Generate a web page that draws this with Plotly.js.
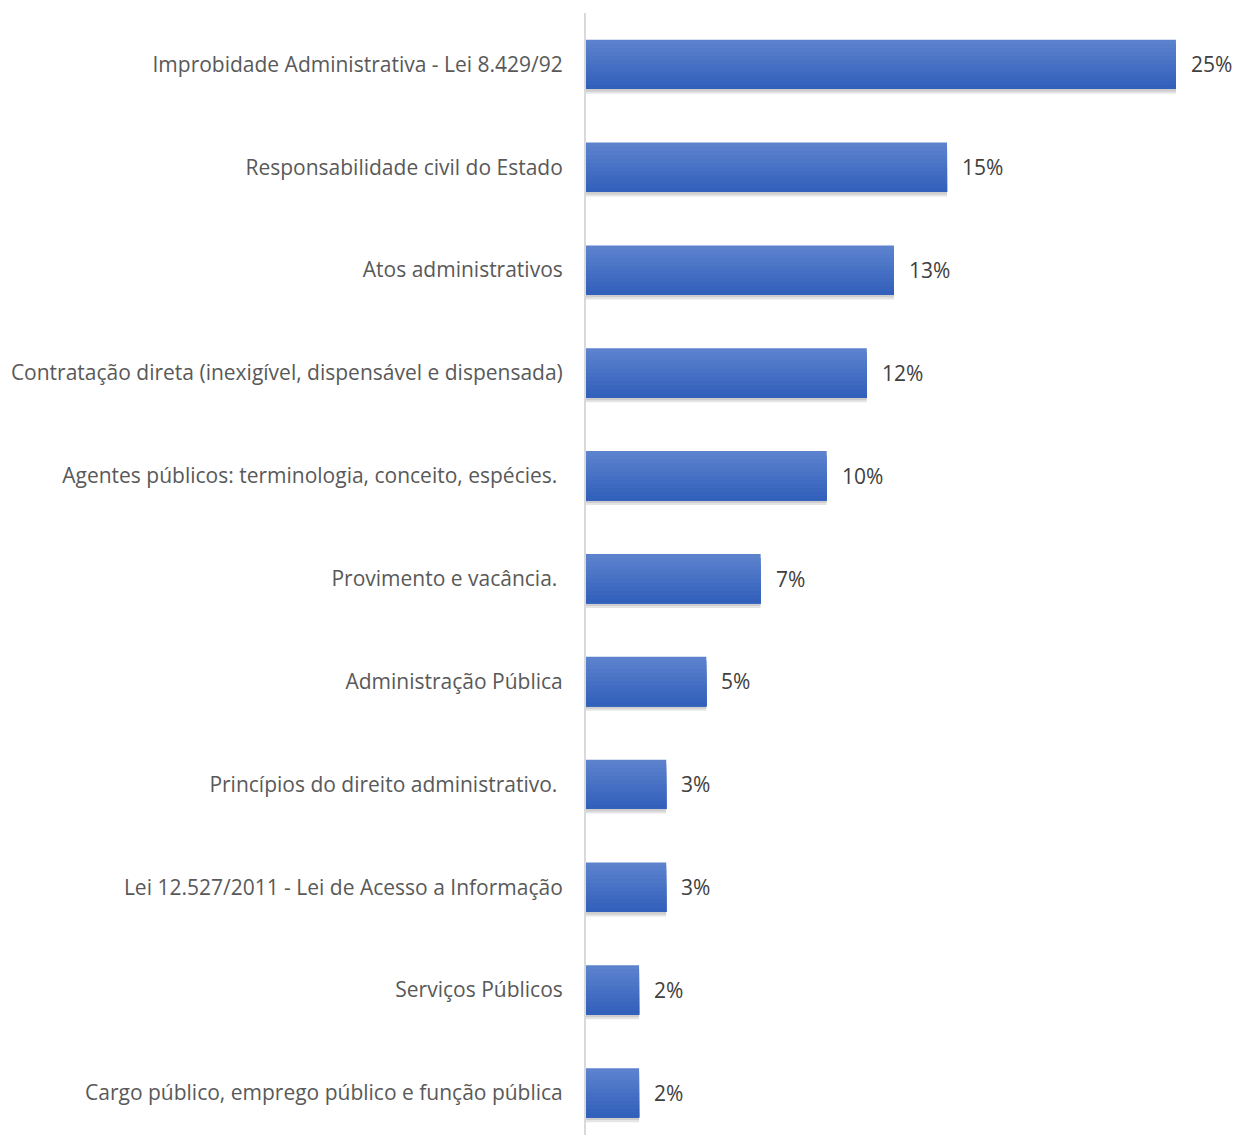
<!DOCTYPE html>
<html>
<head>
<meta charset="utf-8">
<script src="https://cdn.plot.ly/plotly-3.0.1.min.js"></script>
<style>html,body{margin:0;padding:0;background:#fff;}#chart{width:1238px;height:1135px;}</style>
</head>
<body>
<div id="chart"></div>
<script>
const categories = [
  "Improbidade Administrativa - Lei 8.429/92",
  "Responsabilidade civil do Estado",
  "Atos administrativos",
  "Contratação direta (inexigível, dispensável e dispensada)",
  "Agentes públicos: terminologia, conceito, espécies.\u00a0",
  "Provimento e vacância.\u00a0",
  "Administração Pública",
  "Princípios do direito administrativo.\u00a0",
  "Lei 12.527/2011 - Lei de Acesso a Informação",
  "Serviços Públicos",
  "Cargo público, emprego público e função pública"
];
const values = [25, 15.3, 13.05, 11.9, 10.2, 7.4, 5.1, 3.4, 3.4, 2.25, 2.25];
const valueLabels = ["25%", "15%", "13%", "12%", "10%", "7%", "5%", "3%", "3%", "2%", "2%"];

const font = "'Open Sans', sans-serif";

// styling: bar thickness and a vertical gradient approximated by overlapping bands
const barWidth = 0.48;
const nBands = 12;
const topColor = [92, 130, 206];
const bottomColor = [50, 96, 187];

const traces = [];
// soft shadow below bars
traces.push({
  type: "bar", orientation: "h", x: values, y: categories,
  width: barWidth, offset: -barWidth / 2 + 0.045,
  marker: {color: "rgba(0,0,0,0.10)", line: {width: 0}},
  hoverinfo: "none"
});
traces.push({
  type: "bar", orientation: "h", x: values, y: categories,
  width: barWidth, offset: -barWidth / 2 + 0.025,
  marker: {color: "rgba(0,0,0,0.10)", line: {width: 0}},
  hoverinfo: "none"
});
for (let k = 0; k < nBands; k++) {
  const t = k / (nBands - 1);
  const c = topColor.map((v, j) => Math.round(v + (bottomColor[j] - v) * t));
  const start = k * barWidth / nBands;
  traces.push({
    type: "bar", orientation: "h", x: values, y: categories,
    width: barWidth - start,
    offset: -barWidth / 2 + start,
    marker: {color: `rgb(${c[0]},${c[1]},${c[2]})`, line: {width: 0}},
    hoverinfo: "none"
  });
}

const annotations = categories.map((c, i) => ({
  x: values[i], y: c, xref: "x", yref: "y",
  text: valueLabels[i], showarrow: false,
  xanchor: "left", yanchor: "middle", xshift: 13,
  font: {family: font, size: 21, color: "#404040"}
}));

const layout = {
  width: 1238, height: 1135,
  margin: {l: 586, r: 0, t: 13, b: 0},
  paper_bgcolor: "#ffffff", plot_bgcolor: "#ffffff",
  showlegend: false,
  barmode: "overlay",
  xaxis: {range: [0, 27.63], showgrid: false, zeroline: false, showticklabels: false, showline: false, fixedrange: true},
  yaxis: {
    type: "category",
    range: [10.41, -0.5],
    showgrid: false, zeroline: false,
    showline: true, linecolor: "#d9d9d9", linewidth: 2,
    ticks: "", ticklabelstandoff: 17,
    tickfont: {family: font, size: 21, color: "#595959"},
    fixedrange: true
  },
  annotations: annotations
};

Plotly.newPlot("chart", traces, layout, {displayModeBar: false, staticPlot: true});
</script>
</body>
</html>
